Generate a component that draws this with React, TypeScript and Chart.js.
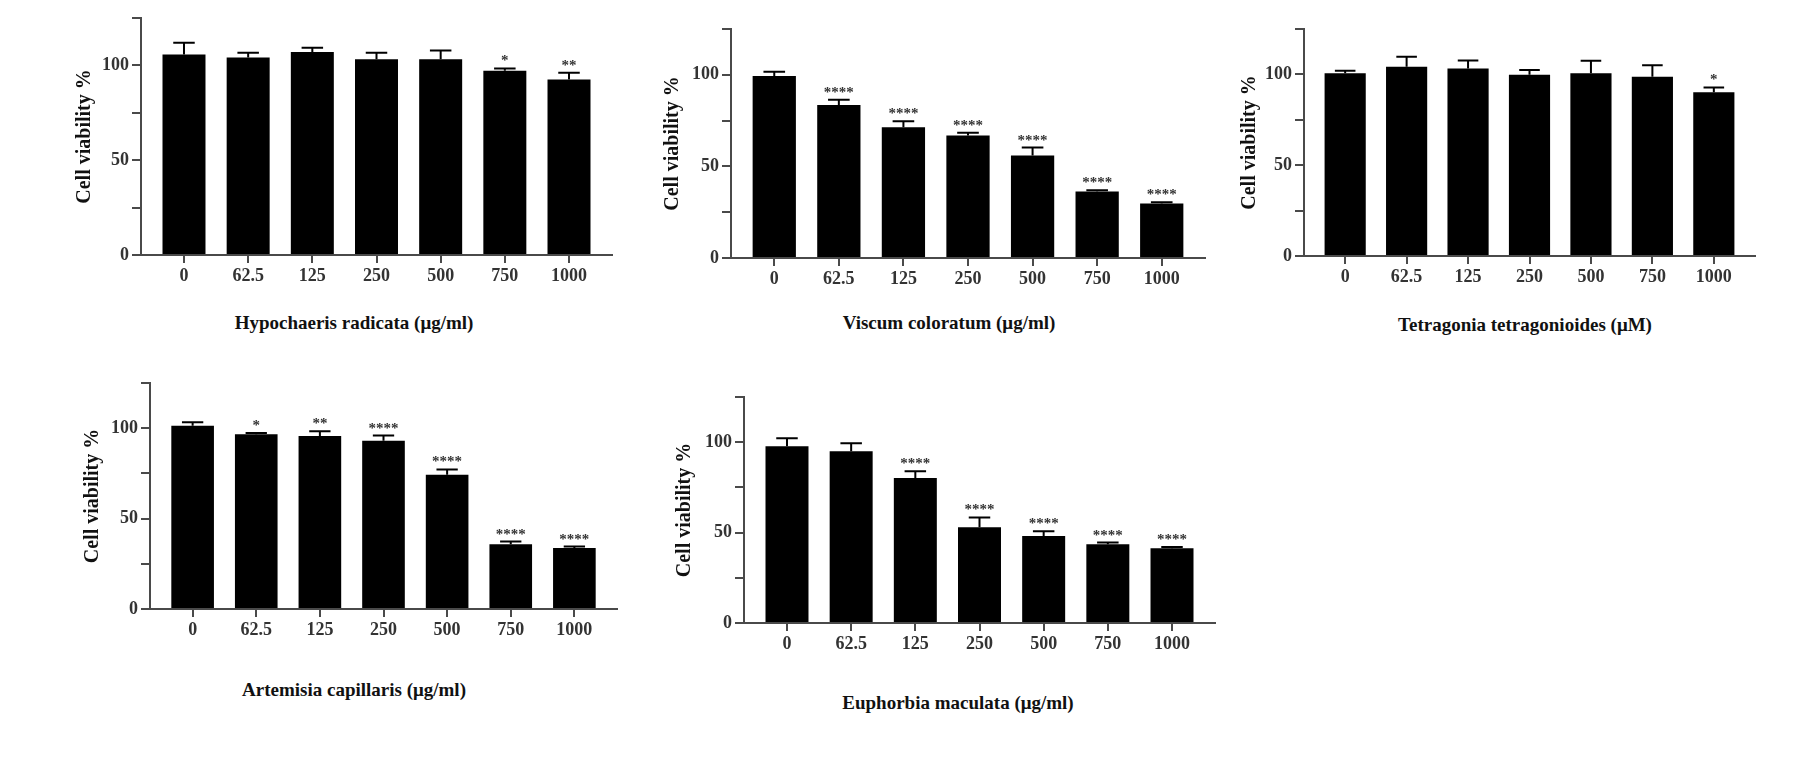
import React, { useEffect, useRef } from 'react';
import Chart from 'chart.js/auto';

// shared x categories (dose) and labelled y ticks
const doses = ['0', '62.5', '125', '250', '500', '750', '1000'];
const yTickLabels = [0, 50, 100];

const hypochaerisMean = [105.8, 104.2, 107.1, 103.2, 103.2, 97.2, 92.6];
const hypochaerisErr = [6.2, 2.5, 2.2, 3.5, 4.7, 1.2, 3.5];
const hypochaerisSig = ['', '', '', '', '', '*', '**'];

const viscumMean = [99.4, 83.5, 71.4, 66.8, 55.9, 36.3, 29.7];
const viscumErr = [2.2, 2.9, 3.3, 1.5, 4.4, 0.7, 0.7];
const viscumSig = ['', '****', '****', '****', '****', '****', '****'];

const tetragoniaMean = [100.6, 104.2, 103.3, 99.8, 100.7, 98.7, 90.2];
const tetragoniaErr = [1.4, 5.5, 4.4, 2.6, 6.8, 6.3, 2.6];
const tetragoniaSig = ['', '', '', '', '', '', '*'];

const artemisiaMean = [101.3, 96.7, 95.7, 93.1, 74.2, 35.8, 33.8];
const artemisiaErr = [2.0, 0.7, 2.6, 2.8, 3.0, 1.5, 0.7];
const artemisiaSig = ['', '*', '**', '****', '****', '****', '****'];

const euphorbiaMean = [97.8, 95.0, 80.2, 52.9, 48.1, 43.6, 41.4];
const euphorbiaErr = [4.4, 4.4, 3.7, 5.5, 2.6, 0.9, 0.7];
const euphorbiaSig = ['', '', '****', '****', '****', '****', '****'];

const FONT = '"Liberation Serif", "Times New Roman", serif';

type Panel = {
    title: string;
    mean: number[];
    err: number[];
    sig: string[];
    area: number[]; // plot area: left, top, right, bottom (page px)
    yTitleX: number;
    titleX: number;
    titleY: number;
};

const panels: Panel[] = [
    { title: 'Hypochaeris radicata (μg/ml)', mean: hypochaerisMean, err: hypochaerisErr, sig: hypochaerisSig, area: [141, 18, 612, 255], yTitleX: 85, titleX: 354, titleY: 323 },
    { title: 'Viscum coloratum (μg/ml)', mean: viscumMean, err: viscumErr, sig: viscumSig, area: [731, 29, 1205, 258], yTitleX: 673, titleX: 949, titleY: 323 },
    { title: 'Tetragonia tetragonioides (μM)', mean: tetragoniaMean, err: tetragoniaErr, sig: tetragoniaSig, area: [1304, 29, 1755, 256], yTitleX: 1250, titleX: 1525, titleY: 325 },
    { title: 'Artemisia capillaris (μg/ml)', mean: artemisiaMean, err: artemisiaErr, sig: artemisiaSig, area: [150, 383, 617, 609], yTitleX: 93, titleX: 354, titleY: 690 },
    { title: 'Euphorbia maculata (μg/ml)', mean: euphorbiaMean, err: euphorbiaErr, sig: euphorbiaSig, area: [744, 397, 1215, 623], yTitleX: 685, titleX: 958, titleY: 703 },
];

// upward SEM whiskers + significance stars
const makeErrorBars = (p: Panel) => ({
    id: 'errorBars',
    afterDatasetsDraw(chart: any) {
        const { ctx } = chart;
        const y = chart.scales.y;
        const bars = chart.getDatasetMeta(0).data;
        ctx.save();
        ctx.strokeStyle = '#000';
        ctx.fillStyle = '#333';
        ctx.lineWidth = 2;
        ctx.font = `bold 15px ${FONT}`;
        ctx.textAlign = 'center';
        ctx.textBaseline = 'alphabetic';
        bars.forEach((bar: any, i: number) => {
            const top = y.getPixelForValue(p.mean[i] + p.err[i]);
            const cap = bar.width / 4;
            ctx.beginPath();
            ctx.moveTo(bar.x, bar.y);
            ctx.lineTo(bar.x, top);
            ctx.moveTo(bar.x - cap, top);
            ctx.lineTo(bar.x + cap, top);
            ctx.stroke();
            if (p.sig[i]) ctx.fillText(p.sig[i], bar.x, top - 3);
        });
        ctx.restore();
    },
});

const tickFont = { family: FONT, size: 18, weight: 'bold' as const };

const BarPanel = ({ panel }: { panel: Panel }) => {
    const chartRef = useRef<HTMLCanvasElement>(null);
    const [L, T, R, B] = panel.area;
    const cl = L - 80;
    const ct = T - 14;
    const cw = R - cl + 12;
    const ch = B - ct + 40;

    useEffect(() => {
        const chartInstance = new Chart(chartRef.current!, {
            type: 'bar',
            data: {
                datasets: [{
                    data: panel.mean.map((v, i) => ({ x: i, y: v })),
                    backgroundColor: '#000',
                    borderWidth: 0,
                    barPercentage: 0.67,
                    categoryPercentage: 1,
                }],
            },
            options: {
                animation: false,
                responsive: true,
                maintainAspectRatio: false,
                layout: { padding: { top: 14, left: 0, right: 12, bottom: 0 } },
                plugins: { legend: { display: false }, tooltip: { enabled: false } },
                scales: {
                    x: {
                        type: 'linear',
                        min: -0.67,
                        max: 6.67,
                        offset: false,
                        grid: { offset: false, drawOnChartArea: false, tickLength: 8, color: '#4a4a4a', lineWidth: 2 },
                        border: { color: '#4a4a4a', width: 2 },
                        ticks: {
                            stepSize: 1,
                            includeBounds: false,
                            autoSkip: false,
                            maxRotation: 0,
                            padding: 3,
                            color: '#333',
                            font: tickFont,
                            callback: (v: any) => doses[v] ?? '',
                        },
                        afterFit: (s: any) => { s.height = 40; },
                    },
                    y: {
                        min: 0,
                        max: 125,
                        grid: { drawOnChartArea: false, tickLength: 9, color: '#4a4a4a', lineWidth: 2 },
                        border: { color: '#4a4a4a', width: 2 },
                        ticks: {
                            stepSize: 25,
                            padding: 3,
                            color: '#333',
                            font: tickFont,
                            callback: (v: any) => (yTickLabels.includes(v) ? String(v) : ''),
                        },
                        title: {
                            display: true,
                            text: 'Cell viability %',
                            color: '#111',
                            font: { family: FONT, size: 20, weight: 'bold' },
                            padding: { top: panel.yTitleX - cl - 12, bottom: 0 },
                        },
                        afterFit: (s: any) => { s.width = 80; },
                    },
                },
            },
            plugins: [makeErrorBars(panel)],
        });

        return () => {
            chartInstance.destroy();
        };
    }, []);

    return (
        <>
            <div style={{ position: 'absolute', left: cl, top: ct, width: cw, height: ch }}>
                <canvas ref={chartRef} />
            </div>
            <div
                style={{
                    position: 'absolute',
                    left: panel.titleX,
                    top: panel.titleY,
                    transform: 'translate(-50%, -50%)',
                    whiteSpace: 'nowrap',
                    font: `bold 19px ${FONT}`,
                    color: '#111',
                }}
            >
                {panel.title}
            </div>
        </>
    );
};

const App = () => (
    <div style={{ position: 'absolute', left: 0, top: 0, width: 1820, height: 778, background: '#fff', overflow: 'hidden' }}>
        {panels.map((p) => <BarPanel key={p.title} panel={p} />)}
    </div>
);

export default App;
